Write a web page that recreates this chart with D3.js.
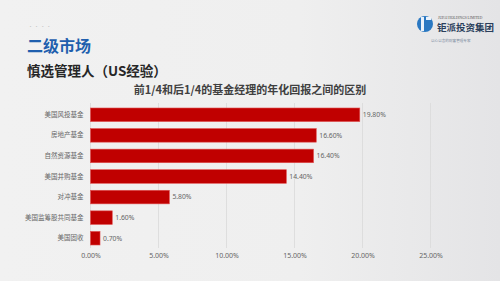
<!DOCTYPE html>
<html>
<head>
<meta charset="utf-8">
<script src="https://cdn.jsdelivr.net/npm/d3@7"></script>
<style>
    html, body { margin: 0; padding: 0; }
    body { width: 500px; height: 281px; overflow: hidden; font-family: "Noto Sans CJK SC", "Noto Sans", sans-serif; }
</style>
</head>
<body>
<svg id="chart" width="500" height="281"></svg>
<script>
    // data
    const categories = ['美国风投基金', '房地产基金', '自然资源基金', '美国并购基金', '对冲基金', '美国监筹股共同基金', '美国固收'];
    const values = [19.8, 16.6, 16.4, 14.4, 5.8, 1.6, 0.7];
    const tickValues = [0, 5, 10, 15, 20, 25];

    const svg = d3.select('#chart');

    // background
    const defs = svg.append('defs');
    const grad = defs.append('linearGradient')
        .attr('id', 'bg')
        .attr('x1', '0').attr('y1', '0').attr('x2', '1').attr('y2', '0');
    grad.append('stop').attr('offset', '0').attr('stop-color', '#f1f1f1');
    grad.append('stop').attr('offset', '0.6').attr('stop-color', '#efefef');
    grad.append('stop').attr('offset', '1').attr('stop-color', '#e4e4e6');
    svg.append('rect').attr('width', 500).attr('height', 281).attr('fill', 'url(#bg)');

    // header
    svg.append('text').attr('x', 28).attr('y', 28)
        .attr('font-size', 5).attr('fill', '#c4c4c4').text('• • • •');
    svg.append('text').attr('x', 27).attr('y', 52)
        .attr('font-size', 16).attr('font-weight', 'bold').attr('fill', '#1f5fae')
        .text('二级市场');
    svg.append('text').attr('x', 27).attr('y', 76)
        .attr('font-size', 13.5).attr('font-weight', 'bold').attr('fill', '#262626')
        .text('慎选管理人（US经验）');

    // logo
    const logo = svg.append('g');
    logo.append('circle').attr('cx', 425).attr('cy', 24).attr('r', 8).attr('fill', '#2a78c2');
    logo.append('path').attr('d', 'M421,17 L424,17 L424,31 L421,31 Z M426,17 L431,17 L431,20 L426,20 Z')
        .attr('fill', '#eaf2fb');
    logo.append('text').attr('x', 438).attr('y', 19)
        .attr('font-size', 3.6).attr('fill', '#555').attr('font-family', 'Liberation Serif, serif')
        .text('JUPAI HOLDINGS LIMITED');
    logo.append('text').attr('x', 437).attr('y', 31)
        .attr('font-size', 9.5).attr('font-weight', 'bold').attr('fill', '#2b3f5c')
        .text('钜派投资集团');
    logo.append('text').attr('x', 431).attr('y', 42)
        .attr('font-size', 3.6).attr('fill', '#7a8aa0')
        .text('以心以言的财富管理专家');

    // chart title
    svg.append('text').attr('x', 250).attr('y', 94).attr('text-anchor', 'middle')
        .attr('font-size', 11).attr('font-weight', 'bold').attr('fill', '#404040')
        .text('前1/4和后1/4的基金经理的年化回报之间的区别');

    const x = d3.scaleLinear().domain([0, 25]).range([90.5, 430.5]);
    const y = d3.scaleBand().domain(categories).range([104.5, 248.5]).paddingInner(0.34).paddingOuter(0.17);

    // gridlines
    svg.append('g').selectAll('line')
        .data(tickValues)
        .join('line')
        .attr('x1', d => x(d)).attr('x2', d => x(d))
        .attr('y1', 103).attr('y2', 248)
        .attr('stroke', '#d9d9d9').attr('stroke-width', 0.8);

    // x axis labels
    const xAxis = d3.axisBottom(x).tickValues(tickValues)
        .tickFormat(d => d3.format('.2f')(d) + '%').tickSize(0).tickPadding(0);
    const gx = svg.append('g').attr('transform', 'translate(0,253)').call(xAxis);
    gx.select('.domain').remove();
    gx.selectAll('text').attr('font-size', 7).attr('fill', '#666')
        .attr('font-family', 'Noto Sans, sans-serif');

    // y axis labels
    const yAxis = d3.axisLeft(y).tickSize(0).tickPadding(7);
    const gy = svg.append('g').attr('transform', `translate(${x(0)},0)`).call(yAxis);
    gy.select('.domain').remove();
    gy.selectAll('text').attr('font-size', 6.5).attr('fill', '#666')
        .attr('font-family', 'Noto Sans CJK SC, sans-serif');

    // bars
    svg.append('g').selectAll('rect')
        .data(values)
        .join('rect')
        .attr('x', x(0))
        .attr('y', (d, i) => y(categories[i]))
        .attr('width', d => x(d) - x(0))
        .attr('height', y.bandwidth())
        .attr('fill', '#c00000')
        .attr('stroke', '#e05050').attr('stroke-width', 0.6);

    // value labels
    svg.append('g').selectAll('text')
        .data(values)
        .join('text')
        .attr('x', d => x(d) + 3)
        .attr('y', (d, i) => y(categories[i]) + y.bandwidth() / 2)
        .attr('dy', '0.35em')
        .attr('font-size', 6.8).attr('fill', '#666')
        .attr('font-family', 'Noto Sans, sans-serif')
        .text(d => d3.format('.2f')(d) + '%');
</script>
</body>
</html>
